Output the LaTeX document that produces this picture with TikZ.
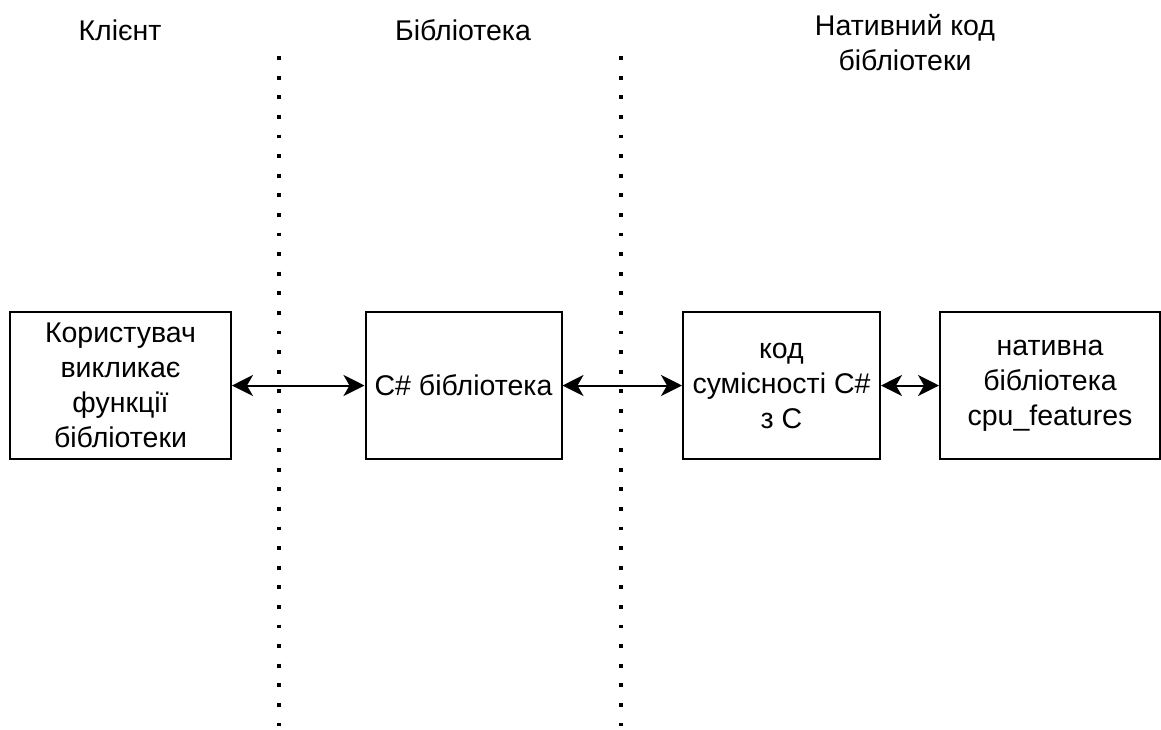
\documentclass[tikz,border=0pt]{standalone}
\usepackage{fontspec}
\setmainfont{Liberation Sans}
\usetikzlibrary{arrows.meta}
\begin{document}
\begin{tikzpicture}[x=1pt,y=-1pt,
  every node/.style={font=\fontsize{28.5}{35}\selectfont, align=center, inner sep=0pt},
  box/.style={draw, line width=2pt, minimum height=147pt},
  tip/.style={Stealth[length=21pt,width=21pt,inset=6pt]},
  link/.style={line width=2pt, {Stealth[length=21pt,width=21pt,inset=6pt]}-{Stealth[length=21pt,width=21pt,inset=6pt]}},
  sep/.style={line width=3.8pt, line cap=butt, dash pattern=on 3.8pt off 15.8pt}]
  \useasboundingbox (0,0) rectangle (1161,729);

  % column headings
  \node (hclient) at (120,30) {Клієнт};
  \node (hlib) at (463,30) {Бібліотека};
  \node (hnative) at (905,43) {Нативний код\\бібліотеки};

  % dotted separators between the columns
  \coordinate (sepAtop) at (278.7,56.1);
  \coordinate (sepAbot) at (278.7,727);
  \coordinate (sepBtop) at (621.3,56.1);
  \coordinate (sepBbot) at (621.3,727);
  \draw[sep] (sepAtop) -- (sepAbot);
  \draw[sep] (sepBtop) -- (sepBbot);

  % components
  \node[box, minimum width=221pt] (client) at (120.5,385.5) {Користувач\\викликає\\функції\\бібліотеки};
  \node[box, minimum width=196pt] (cslib) at (463.5,385.5) {C\# бібліотека};
  \node[box, minimum width=197pt] (interop) at (781.5,385.5) {код\\сумісності C\#\\з C};
  \node[box, minimum width=220pt] (native) at (1050,385.5) {нативна\\бібліотека\\cpu\_features};

  % calls between components
  \draw[link] (client) -- (cslib);
  \draw[link] (cslib) -- (interop);
  \draw[link] (interop) -- (native);
\end{tikzpicture}
\end{document}
